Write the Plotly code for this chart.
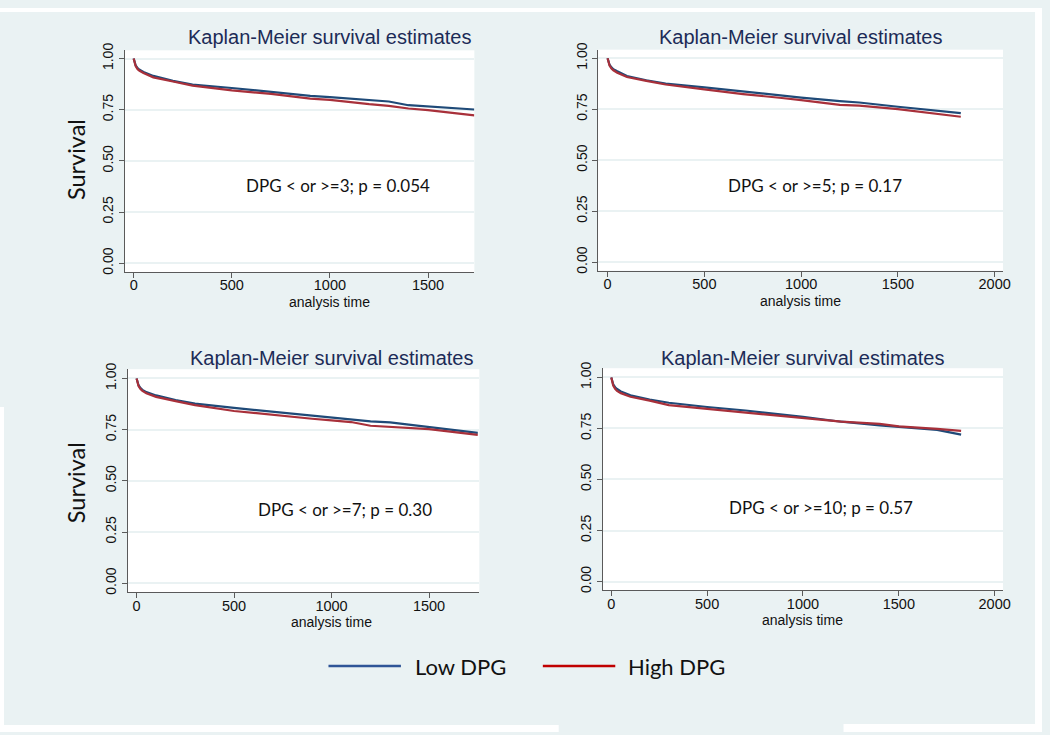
import plotly.graph_objects as go

# ---------------- data ----------------
panel_titles = ["Kaplan-Meier survival estimates"] * 4
panel_notes = ["DPG < or >=3; p = 0.054", "DPG < or >=5; p = 0.17",
               "DPG < or >=7; p = 0.30", "DPG < or >=10; p = 0.57"]
series_names = ["Low DPG", "High DPG"]

# Panel 1 (cut-off 3)
t1 = [0, 5, 10, 20, 30, 50, 100, 200, 300, 500, 700, 900, 1000, 1200, 1300, 1400, 1500, 1736]
low1 = [1.0, 0.98, 0.967, 0.953, 0.945, 0.934, 0.915, 0.891, 0.873, 0.856, 0.836, 0.818, 0.811, 0.796, 0.790, 0.772, 0.766, 0.751]
high1 = [1.0, 0.978, 0.963, 0.948, 0.94, 0.929, 0.908, 0.888, 0.868, 0.844, 0.827, 0.804, 0.798, 0.777, 0.769, 0.756, 0.748, 0.722]

# Panel 2 (cut-off 5)
t2 = [0, 5, 10, 20, 30, 50, 100, 200, 300, 500, 700, 900, 1000, 1200, 1300, 1500, 1700, 1825]
low2 = [1.0, 0.98, 0.968, 0.955, 0.946, 0.936, 0.913, 0.892, 0.876, 0.857, 0.837, 0.815, 0.807, 0.790, 0.783, 0.762, 0.742, 0.731]
high2 = [1.0, 0.978, 0.964, 0.95, 0.941, 0.929, 0.908, 0.889, 0.871, 0.847, 0.824, 0.805, 0.795, 0.771, 0.768, 0.750, 0.729, 0.713]

# Panel 3 (cut-off 7)
t3 = [0, 5, 10, 20, 30, 50, 100, 200, 300, 500, 700, 900, 1000, 1100, 1200, 1300, 1500, 1750]
low3 = [1.0, 0.98, 0.967, 0.953, 0.944, 0.933, 0.917, 0.894, 0.877, 0.856, 0.837, 0.816, 0.809, 0.797, 0.790, 0.785, 0.763, 0.734]
high3 = [1.0, 0.978, 0.963, 0.948, 0.939, 0.928, 0.910, 0.889, 0.870, 0.841, 0.821, 0.803, 0.795, 0.787, 0.769, 0.764, 0.752, 0.724]

# Panel 4 (cut-off 10)
t4 = [0, 5, 10, 20, 30, 50, 100, 200, 300, 500, 700, 1000, 1200, 1400, 1500, 1700, 1825]
low4 = [1.0, 0.98, 0.966, 0.952, 0.943, 0.931, 0.912, 0.892, 0.876, 0.855, 0.838, 0.807, 0.783, 0.765, 0.757, 0.743, 0.720]
high4 = [1.0, 0.975, 0.96, 0.944, 0.934, 0.923, 0.905, 0.886, 0.864, 0.846, 0.828, 0.801, 0.783, 0.772, 0.760, 0.748, 0.738]

x_ticks_short = [0, 500, 1000, 1500]
x_ticks_long = [0, 500, 1000, 1500, 2000]
y_ticks = [0, 0.25, 0.5, 0.75, 1.0]

panels = [
    (t1, low1, high1, x_ticks_short),
    (t2, low2, high2, x_ticks_long),
    (t3, low3, high3, x_ticks_short),
    (t4, low4, high4, x_ticks_long),
]

# ---------------- styling / layout ----------------
W, H = 1050, 735
BG = "#EAF2F3"
GRID = "#EAF2F3"
BLUE = "#1F4A78"
RED = "#A8303A"
LEG_BLUE = "#2F5597"
LEG_RED = "#C00000"
TITLE_COL = "#1C2B57"
AXIS_COL = "#5A5A5A"
CAL = "Lato, 'Open Sans', sans-serif"
ARIAL = "'Liberation Sans', Arial, sans-serif"

# plot rectangles in pixels: (left, right, top, bottom)
rects = [(126, 478, 43, 268), (602.7, 1010.7, 42.3, 266.7),
         (129, 483, 366.7, 593.3), (607.3, 1010.7, 365.7, 591)]
x_ranges = [[-44, 1736], [-49, 2043], [-44, 1758], [-45, 2043.5]]
y_ranges = [[-0.043, 1.040], [-0.042, 1.042], [-0.045, 1.045], [-0.042, 1.045]]
title_pos = [(332, 29), (807, 29), (334, 355), (809, 355)]
note_pos = [(341, 180), (821, 180), (348, 509), (827, 507)]
xtitle_pos = [(332, 298), (807, 297), (334, 623), (809, 621)]

fig = go.Figure()
layout = dict(
    width=W, height=H,
    margin=dict(l=0, r=0, t=0, b=0),
    paper_bgcolor=BG, plot_bgcolor="white",
    showlegend=False,
    annotations=[], shapes=[],
)

def px2x(px):
    return px / W

def px2y(py):
    return 1 - py / H

for i, (t, lo, hi, xt) in enumerate(panels):
    k = "" if i == 0 else str(i + 1)
    xa, ya = "x" + k, "y" + k
    fig.add_trace(go.Scatter(x=t, y=lo, mode="lines", name=series_names[0],
                             line=dict(color=BLUE, width=2.2), xaxis=xa, yaxis=ya,
                             legendgroup="low", showlegend=(i == 0)))
    fig.add_trace(go.Scatter(x=t, y=hi, mode="lines", name=series_names[1],
                             line=dict(color=RED, width=2.2), xaxis=xa, yaxis=ya,
                             legendgroup="high", showlegend=(i == 0)))
    l, r, tp, b = rects[i]
    layout["xaxis" + k] = dict(
        domain=[px2x(l), px2x(r)], range=x_ranges[i], anchor=ya,
        tickvals=xt, ticks="outside", ticklen=5, tickcolor=AXIS_COL,
        ticklabelstandoff=-5,
        showline=True, linecolor=AXIS_COL, linewidth=1, showgrid=False,
        zeroline=False, tickfont=dict(family=ARIAL, size=14.5, color="#111"),
    )
    layout["yaxis" + k] = dict(
        domain=[px2y(b), px2y(tp)], range=y_ranges[i], anchor=xa,
        tickvals=y_ticks, tickformat=".2f", ticks="outside", ticklen=5,
        tickcolor=AXIS_COL, tickangle=-90,
        showline=True, linecolor=AXIS_COL, linewidth=1,
        showgrid=True, gridcolor=GRID, gridwidth=1.5, zeroline=False,
        tickfont=dict(family=ARIAL, size=14, color="#111"),
    )
    # panel title
    tx, ty = title_pos[i]
    layout["annotations"].append(dict(
        text=panel_titles[i], x=px2x(tx), y=px2y(ty), xref="paper", yref="paper",
        showarrow=False, xanchor="center", yanchor="middle",
        font=dict(family=ARIAL, size=20, color=TITLE_COL)))
    # x-axis title
    qx, qy = xtitle_pos[i]
    layout["annotations"].append(dict(
        text="analysis time", x=px2x(qx), y=px2y(qy), xref="paper", yref="paper",
        showarrow=False, xanchor="center", yanchor="middle",
        font=dict(family=ARIAL, size=14, color="#111")))
    # note
    nx, ny = note_pos[i]
    layout["annotations"].append(dict(
        text=panel_notes[i], x=px2x(nx), y=px2y(ny), xref="paper", yref="paper",
        showarrow=False, xanchor="center", yanchor="middle",
        font=dict(family=CAL, size=17, color="#111")))

# "Survival" y titles for left panels
for sy in (154, 482):
    layout["annotations"].append(dict(
        text="Survival", x=px2x(76), y=px2y(sy), xref="paper", yref="paper",
        showarrow=False, xanchor="center", yanchor="middle", textangle=-90,
        font=dict(family=CAL, size=23.5, color="#111")))

# white border strips of the composed image
for (x0, x1, y0, y1) in [(0, 1050, 0, 4), (0, 4, 405, 735), (1043, 1050, 0, 735),
                         (0, 563, 728, 735), (850, 1050, 727, 735)]:
    layout["shapes"].append(dict(type="rect", xref="paper", yref="paper",
                                 x0=px2x(x0), x1=px2x(x1), y0=px2y(y1), y1=px2y(y0),
                                 fillcolor="white", line=dict(width=0), layer="below"))

# manual legend
legend_items = [(series_names[0], LEG_BLUE, 331, 404, 416),
                (series_names[1], LEG_RED, 547, 620, 631)]
for name, col, lx0, lx1, tx in legend_items:
    layout["shapes"].append(dict(type="line", xref="paper", yref="paper",
                                 x0=px2x(lx0), x1=px2x(lx1), y0=px2y(668), y1=px2y(668),
                                 line=dict(color=col, width=2.5)))
    layout["annotations"].append(dict(
        text=name, x=px2x(tx), y=px2y(669), xref="paper", yref="paper",
        showarrow=False, xanchor="left", yanchor="middle",
        font=dict(family=CAL, size=22, color="#111")))

fig.update_layout(**layout)
fig.write_html("out.html", config={"displayModeBar": False},
               post_script="document.body.style.margin='0px';")
